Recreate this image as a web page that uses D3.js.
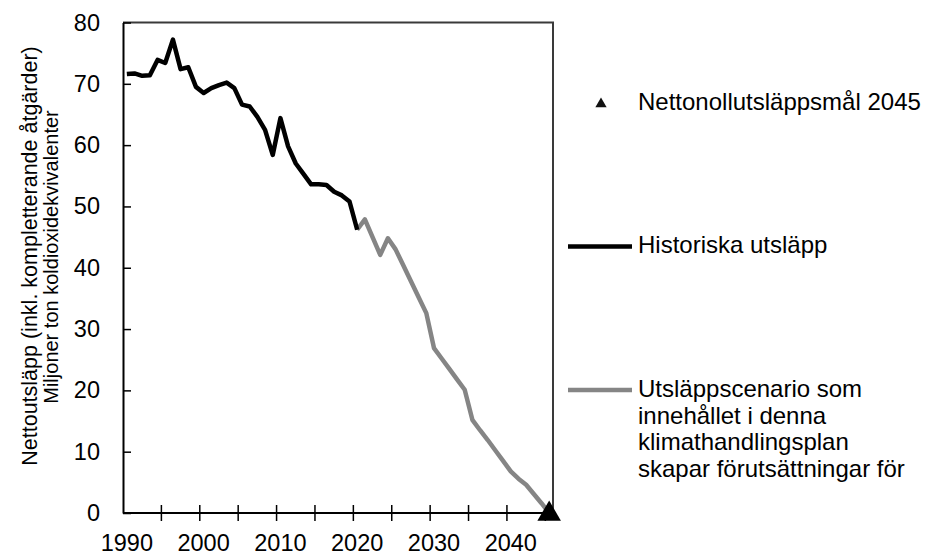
<!DOCTYPE html>
<html>
<head>
<meta charset="utf-8">
<script src="https://cdn.jsdelivr.net/npm/d3@7"></script>
<style>
  html, body { margin: 0; padding: 0; background: #fff; }
  svg { display: block; font-family: "Liberation Sans", Arial, sans-serif; }
</style>
</head>
<body>
<svg id="chart" width="926" height="555"></svg>
<script>
// ---- data ----
const historyYears = [1990,1991,1992,1993,1994,1995,1996,1997,1998,1999,2000,2001,2002,2003,2004,2005,2006,2007,2008,2009,2010,2011,2012,2013,2014,2015,2016,2017,2018,2019,2020];
const historyValues = [71.6,71.7,71.3,71.4,73.9,73.4,77.2,72.4,72.7,69.5,68.5,69.3,69.8,70.2,69.3,66.6,66.3,64.6,62.5,58.4,64.4,59.8,57.0,55.3,53.6,53.6,53.5,52.4,51.8,50.8,46.2];
const scenarioYears = [2020,2021,2022,2023,2024,2025,2026,2027,2028,2029,2030,2031,2032,2033,2034,2035,2036,2037,2038,2039,2040,2041,2042,2043,2044,2045];
const scenarioValues = [46.2,47.9,45.0,42.1,44.8,43.0,40.4,37.8,35.2,32.6,26.9,25.2,23.5,21.8,20.1,15.2,13.5,11.9,10.2,8.5,6.8,5.6,4.6,3.1,1.6,0.0];
const targetYear = [2045];
const targetValue = [0];
const yTicks = [0,10,20,30,40,50,60,70,80];
const xTickLabels = [1990,2000,2010,2020,2030,2040];
const xTickMarks = [1995,2000,2005,2010,2015,2020,2025,2030,2035,2040,2045];
const categories = d3.range(1990, 2046);
const yTitle = ["Nettoutsläpp (inkl. kompletterande åtgärder)", "Miljoner ton koldioxidekvivalenter"];
const legendTarget = "Nettonollutsläppsmål 2045";
const legendHistory = "Historiska utsläpp";
const legendScenario = ["Utsläppscenario som", "innehållet i denna", "klimathandlingsplan", "skapar förutsättningar för"];

// ---- layout ----
const svg = d3.select("#chart");
const L = 123, R = 553, T = 22.5, B = 513;

const x = d3.scaleBand().domain(categories).range([L, R]).paddingInner(0).paddingOuter(0);
const bw = x.bandwidth();
const cx = yr => x(yr) + bw / 2;
const y = d3.scaleLinear().domain([0, 80]).range([B, T]);

// plot border (top/right)
svg.append("path")
  .attr("d", `M${L},${T}H${R}V${B}`)
  .attr("fill", "none").attr("stroke", "#3a3a3a").attr("stroke-width", 2);

// y axis
const yAxis = d3.axisLeft(y).tickValues(yTicks).tickSizeInner(-8).tickSizeOuter(0).tickPadding(23);
const gy = svg.append("g").attr("transform", `translate(${L},0)`).call(yAxis);
gy.select(".domain").attr("stroke", "#000").attr("stroke-width", 2);
gy.selectAll(".tick line").attr("stroke", "#000").attr("stroke-width", 1.5);
gy.selectAll(".tick text").attr("font-size", 23.5).attr("fill", "#000").attr("font-family", "Liberation Sans, Arial, sans-serif");

// x axis
const gx = svg.append("g");
gx.append("line").attr("x1", L).attr("x2", R).attr("y1", B).attr("y2", B)
  .attr("stroke", "#000").attr("stroke-width", 2);
gx.selectAll("line.tk").data(xTickMarks).enter().append("line")
  .attr("class", "tk")
  .attr("x1", d => x(d)).attr("x2", d => x(d))
  .attr("y1", B - 8).attr("y2", B + 8)
  .attr("stroke", "#000").attr("stroke-width", 1.5);
gx.selectAll("text").data(xTickLabels).enter().append("text")
  .attr("x", d => cx(d)).attr("y", 551)
  .attr("text-anchor", "middle").attr("font-size", 23.5).attr("fill", "#000")
  .text(d => d);

// y title
svg.append("text")
  .attr("transform", "translate(37,256) rotate(-90)")
  .attr("text-anchor", "middle").attr("font-size", 21.5).attr("fill", "#000")
  .text(yTitle[0]);
svg.append("text")
  .attr("transform", "translate(58,257) rotate(-90)")
  .attr("text-anchor", "middle").attr("font-size", 20).attr("fill", "#000")
  .text(yTitle[1]);

// lines
const line = d3.line().x(d => cx(d[0])).y(d => y(d[1]));
const scen = scenarioYears.map((yr, i) => [yr, scenarioValues[i]]);
const hist = historyYears.map((yr, i) => [yr, historyValues[i]]);
svg.append("path").datum(scen).attr("d", line)
  .attr("fill", "none").attr("stroke", "#858585").attr("stroke-width", 4.5)
  .attr("stroke-linejoin", "round");
svg.append("path").datum(hist).attr("d", line)
  .attr("fill", "none").attr("stroke", "#000").attr("stroke-width", 4.5)
  .attr("stroke-linejoin", "round");

// target marker
svg.selectAll("path.target").data(targetYear).enter().append("path")
  .attr("class", "target")
  .attr("d", d3.symbol().type(d3.symbolTriangle).size(240))
  .attr("transform", (d, i) => `translate(${cx(d)},${y(targetValue[i]) + 1})`)
  .attr("fill", "#000");

// legend
const lg = svg.append("g");
lg.append("path")
  .attr("d", d3.symbol().type(d3.symbolTriangle).size(55))
  .attr("transform", "translate(601,104)").attr("fill", "#111");
lg.append("text").attr("x", 638).attr("y", 110).attr("font-size", 24).attr("fill", "#000").text(legendTarget);

lg.append("line").attr("x1", 568).attr("x2", 632).attr("y1", 246.5).attr("y2", 246.5)
  .attr("stroke", "#000").attr("stroke-width", 4.5);
lg.append("text").attr("x", 638).attr("y", 253).attr("font-size", 24).attr("fill", "#000").text(legendHistory);

lg.append("line").attr("x1", 568).attr("x2", 632).attr("y1", 390).attr("y2", 390)
  .attr("stroke", "#858585").attr("stroke-width", 4.5);
svg.append("clipPath").attr("id", "lgclip").append("rect")
  .attr("x", 630).attr("y", 360).attr("width", 296).attr("height", 122);
const st = lg.append("text").attr("clip-path", "url(#lgclip)").attr("font-size", 24).attr("fill", "#000");
legendScenario.forEach((t, i) => {
  st.append("tspan").attr("x", 638).attr("y", 397 + i * 26.7).text(t);
});
</script>
</body>
</html>
